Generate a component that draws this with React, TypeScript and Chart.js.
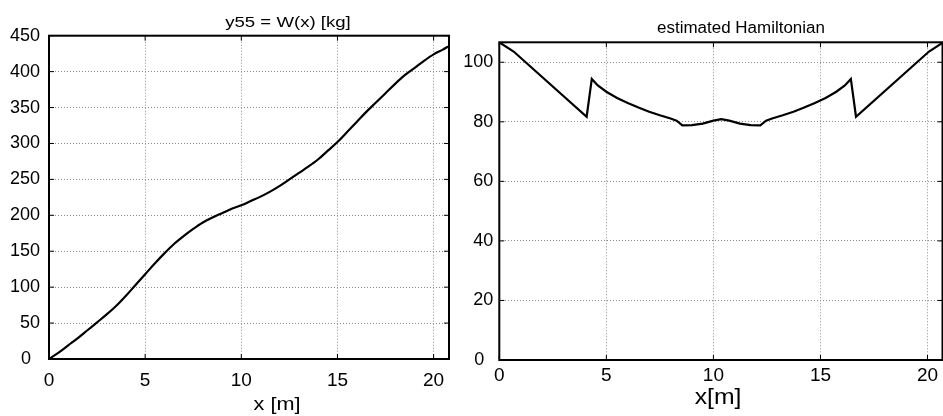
import React, { useEffect, useRef } from 'react';
import { Chart, registerables } from 'chart.js';

Chart.register(...registerables);

const FONT = '"Liberation Sans", Arial, Helvetica, sans-serif';

// ---- Left chart: y55 = W(x) [kg]
const weightX = [0, 0.5, 1, 1.5, 2, 2.5, 3, 3.5, 4, 4.5, 5, 5.5, 6, 6.5, 7, 7.5, 8, 8.5, 9, 9.5, 10, 10.5, 11, 11.5, 12, 12.5, 13, 13.5, 14, 14.5, 15, 15.5, 16, 16.5, 17, 17.5, 18, 18.5, 19, 19.5, 20, 20.5, 20.75];
const weightY = [0, 9, 19, 29, 40, 51, 62, 74, 88, 103, 118, 133, 147, 160, 171, 181, 190, 197, 203, 209, 214, 220, 226, 233, 241, 250, 259, 268, 278, 290, 302, 316, 330, 344, 357, 370, 383, 395, 405, 415, 424, 431, 435];
const weightTitle = 'y55 = W(x) [kg]';
const weightXLabel = 'x [m]';

// ---- Right chart: estimated Hamiltonian
const hamX = [0, 0.67, 4.08, 4.32, 4.6, 5, 5.5, 6, 6.5, 7, 7.5, 8, 8.28, 8.55, 9, 9.5, 10, 10.37, 10.74, 11.24, 11.74, 12.19, 12.46, 12.74, 13.24, 13.74, 14.24, 14.74, 15.24, 15.74, 16.14, 16.42, 16.66, 20.07, 20.74];
const hamY = [106.7, 103.6, 81.7, 94.4, 92.2, 90.1, 88.0, 86.3, 84.8, 83.4, 82.2, 81.1, 80.4, 78.8, 78.9, 79.4, 80.4, 80.9, 80.4, 79.4, 78.9, 78.8, 80.4, 81.1, 82.2, 83.4, 84.8, 86.3, 88.0, 90.1, 92.2, 94.4, 81.7, 103.6, 106.7];
const hamTitle = 'estimated Hamiltonian';
const hamXLabel = 'x[m]';

type TextItem = { text: string; x: number; y: number; size: number; sx: number };

const framePlugin = {
  id: 'matlabFrame',
  afterDatasetsDraw(chart: any) {
    const { ctx, chartArea: a, scales } = chart;
    ctx.save();
    ctx.strokeStyle = '#000';
    ctx.lineWidth = 1;
    const len = 5;
    ctx.beginPath();
    scales.x.ticks.forEach((t: any) => {
      const p = scales.x.getPixelForValue(t.value);
      ctx.moveTo(p, a.bottom);
      ctx.lineTo(p, a.bottom - len);
      ctx.moveTo(p, a.top);
      ctx.lineTo(p, a.top + len);
    });
    scales.y.ticks.forEach((t: any) => {
      const p = scales.y.getPixelForValue(t.value);
      ctx.moveTo(a.left, p);
      ctx.lineTo(a.left + len, p);
      ctx.moveTo(a.right, p);
      ctx.lineTo(a.right - len, p);
    });
    ctx.stroke();
    ctx.lineWidth = 2;
    ctx.strokeRect(a.left, a.top, a.right - a.left, a.bottom - a.top);
    ctx.restore();
  },
};

function makeTextPlugin(items: TextItem[]) {
  return {
    id: 'freeText',
    afterDraw(chart: any) {
      const { ctx } = chart;
      items.forEach((it) => {
        ctx.save();
        ctx.font = `${it.size}px ${FONT}`;
        ctx.fillStyle = '#000';
        ctx.textAlign = 'center';
        ctx.textBaseline = 'alphabetic';
        ctx.translate(it.x, it.y);
        ctx.scale(it.sx, 1);
        ctx.fillText(it.text, 0, 0);
        ctx.restore();
      });
    },
  };
}

function axisOpts(min: number, max: number, step: number, fontSize: number, padding: number, fit: (s: any) => void, isY: boolean) {
  return {
    type: 'linear' as const,
    min,
    max,
    ticks: {
      stepSize: step,
      includeBounds: false,
      color: '#000',
      font: { family: FONT, size: fontSize },
      padding,
      maxRotation: 0,
      // MATLAB-style: the zero label on the y axis sits a little further left
      callback: (v: number) => (isY && v === 0 ? '0\u2002' : String(v)),
    },
    grid: { color: '#8c8c8c', lineWidth: 1, drawTicks: false },
    border: { display: false, dash: [1, 2] },
    afterFit: fit,
  };
}

function buildChart(
  canvas: HTMLCanvasElement,
  xs: number[],
  ys: number[],
  cfg: {
    xMax: number; yMax: number; yStep: number;
    padTop: number; padRight: number; yWidth: number; xHeight: number;
    xPad: number; yPad: number; texts: TextItem[]; smooth: boolean;
  }
) {
  return new Chart(canvas, {
    type: 'line',
    data: {
      datasets: [
        {
          data: xs.map((x, i) => ({ x, y: ys[i] })),
          borderColor: '#000',
          borderWidth: 2.2,
          pointRadius: 0,
          fill: false,
          tension: 0,
          cubicInterpolationMode: cfg.smooth ? 'monotone' : 'default',
        },
      ],
    },
    options: {
      responsive: false,
      animation: false,
      layout: { padding: { left: 0, top: cfg.padTop, right: cfg.padRight, bottom: 0 } },
      plugins: { legend: { display: false }, tooltip: { enabled: false }, title: { display: false } },
      scales: {
        x: axisOpts(0, cfg.xMax, 5, 19, cfg.xPad, (s: any) => { s.height = cfg.xHeight; }, false),
        y: axisOpts(0, cfg.yMax, cfg.yStep, 18, cfg.yPad, (s: any) => { s.width = cfg.yWidth; }, true),
      },
    },
    plugins: [framePlugin, makeTextPlugin(cfg.texts)],
  } as any);
}

const SPLIT = 458;

export default function App() {
  const leftRef = useRef<HTMLCanvasElement>(null);
  const rightRef = useRef<HTMLCanvasElement>(null);

  useEffect(() => {
    const left = buildChart(leftRef.current!, weightX, weightY, {
      xMax: 20.8, yMax: 450, yStep: 50,
      padTop: 35.7, padRight: SPLIT - 449, yWidth: 49, xHeight: 57,
      xPad: 10, yPad: 9, smooth: true,
      texts: [
        { text: weightTitle, x: 288, y: 26.5, size: 15.5, sx: 1.2 },
        { text: weightXLabel, x: 277, y: 409.5, size: 19, sx: 1.14 },
      ],
    });
    const right = buildChart(rightRef.current!, hamX, hamY, {
      xMax: 20.7, yMax: 106.7, yStep: 20,
      padTop: 42.3, padRight: 0.5, yWidth: 499.3 - SPLIT, xHeight: 56,
      xPad: 4, yPad: 6, smooth: false,
      texts: [
        { text: hamTitle, x: 741 - SPLIT, y: 33.3, size: 16, sx: 1.06 },
        { text: hamXLabel, x: 718 - SPLIT, y: 404.3, size: 21.5, sx: 1.15 },
      ],
    });
    return () => {
      left.destroy();
      right.destroy();
    };
  }, []);

  return (
    <div style={{ position: 'absolute', left: 0, top: 0, width: 943, height: 416, background: '#fff' }}>
      <canvas ref={leftRef} width={SPLIT} height={416} style={{ position: 'absolute', left: 0, top: 0, width: SPLIT, height: 416 }} />
      <canvas ref={rightRef} width={943 - SPLIT} height={416} style={{ position: 'absolute', left: SPLIT, top: 0, width: 943 - SPLIT, height: 416 }} />
    </div>
  );
}
